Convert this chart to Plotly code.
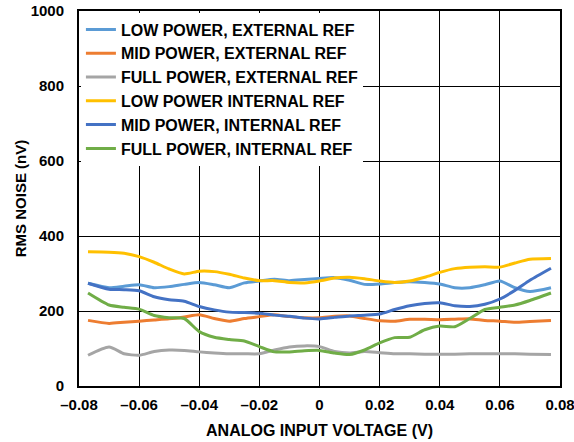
import plotly.graph_objects as go

voltage = [-0.077, -0.07, -0.065, -0.06, -0.055, -0.05, -0.045, -0.04, -0.035, -0.03,
           -0.025, -0.02, -0.015, -0.01, -0.005, 0.0, 0.005, 0.01, 0.015, 0.02,
           0.025, 0.03, 0.035, 0.04, 0.045, 0.05, 0.055, 0.06, 0.065, 0.07, 0.077]

low_ext = [274, 262, 266, 270, 262, 265, 271, 276, 270, 262, 275, 280, 285, 281, 284, 287,
           289, 282, 271, 272, 276, 278, 276, 272, 262, 262, 270, 280, 262, 252, 262]
mid_ext = [175, 167, 170, 173, 176, 179, 184, 190, 180, 173, 180, 185, 190, 185, 182, 182,
           186, 187, 180, 174, 173, 178, 178, 177, 178, 179, 175, 173, 170, 172, 175]
full_ext = [82, 104, 86, 82, 92, 96, 95, 91, 88, 86, 86, 86, 96, 104, 107, 105,
            92, 88, 92, 89, 86, 86, 85, 85, 85, 86, 86, 86, 86, 85, 84]
low_int = [358, 357, 354, 345, 330, 312, 299, 306, 305, 298, 288, 281, 281, 276, 275, 280,
           288, 290, 286, 280, 276, 280, 290, 303, 313, 317, 318, 317, 328, 338, 340]
mid_int = [274, 258, 257, 254, 238, 230, 226, 212, 203, 197, 196, 194, 189, 186, 181, 179,
           183, 187, 189, 192, 204, 214, 220, 222, 214, 212, 218, 232, 255, 282, 314]
full_int = [248, 216, 210, 205, 188, 182, 180, 145, 130, 124, 120, 105, 91, 91, 94, 95,
            88, 84, 96, 115, 129, 130, 150, 160, 158, 180, 204, 210, 216, 228, 248]

series_names = ["LOW POWER, EXTERNAL REF", "MID POWER, EXTERNAL REF", "FULL POWER, EXTERNAL REF",
                "LOW POWER INTERNAL REF", "MID POWER, INTERNAL REF", "FULL POWER, INTERNAL REF"]
series_colors = ["#5B9BD5", "#ED7D31", "#A5A5A5", "#FFC000", "#4472C4", "#70AD47"]

x_ticks = [-0.08, -0.06, -0.04, -0.02, 0, 0.02, 0.04, 0.06, 0.08]
x_labels = ["–0.08", "–0.06", "–0.04", "–0.02", "0", "0.02", "0.04", "0.06", "0.08"]
y_ticks = [0, 200, 400, 600, 800, 1000]

font = "Liberation Sans, Arial, sans-serif"

fig = go.Figure()
for name, vals, col in zip(series_names, [low_ext, mid_ext, full_ext, low_int, mid_int, full_int], series_colors):
    fig.add_trace(go.Scatter(x=voltage, y=vals, name=name, mode="lines",
                             line=dict(color=col, width=3, shape="spline", smoothing=0.6)))

fig.update_layout(
    width=574, height=442,
    margin=dict(l=79, r=14, t=11, b=56),
    paper_bgcolor="white", plot_bgcolor="white",
    font=dict(family=font, size=15, color="black"),
    showlegend=True,
    legend=dict(x=0.004, y=0.996, xanchor="left", yanchor="top",
                bgcolor="white", borderwidth=0, itemwidth=30,
                font=dict(family=font, size=16, color="black", weight="bold"),
                tracegroupgap=0),
)
fig.update_xaxes(range=[-0.08, 0.08], tickvals=x_ticks, ticktext=x_labels,
                 showgrid=True, gridcolor="black", gridwidth=1.2,
                 showline=True, linecolor="black", linewidth=2, mirror=True,
                 zeroline=False, ticks="", automargin=False, ticklabelstandoff=4,
                 ticklabeloverflow="allow",
                 tickfont=dict(family=font, size=15, weight="bold"),
                 title=dict(text="<b>ANALOG INPUT VOLTAGE (V)</b>", font=dict(size=16), standoff=13))
fig.update_yaxes(range=[0, 1000], tickvals=y_ticks,
                 showgrid=True, gridcolor="black", gridwidth=1.2,
                 showline=True, linecolor="black", linewidth=2, mirror=True,
                 zeroline=False, ticks="", automargin=False, ticklabelstandoff=10,
                 tickfont=dict(family=font, size=15, weight="bold"),
                 title=dict(text="<b>RMS NOISE (nV)</b>", font=dict(size=15), standoff=0))

# drop the browser's default body margin so the figure sits at the page corner
fig.write_html("out.html", config={"displayModeBar": False},
               post_script="document.body.style.margin = '0';")
